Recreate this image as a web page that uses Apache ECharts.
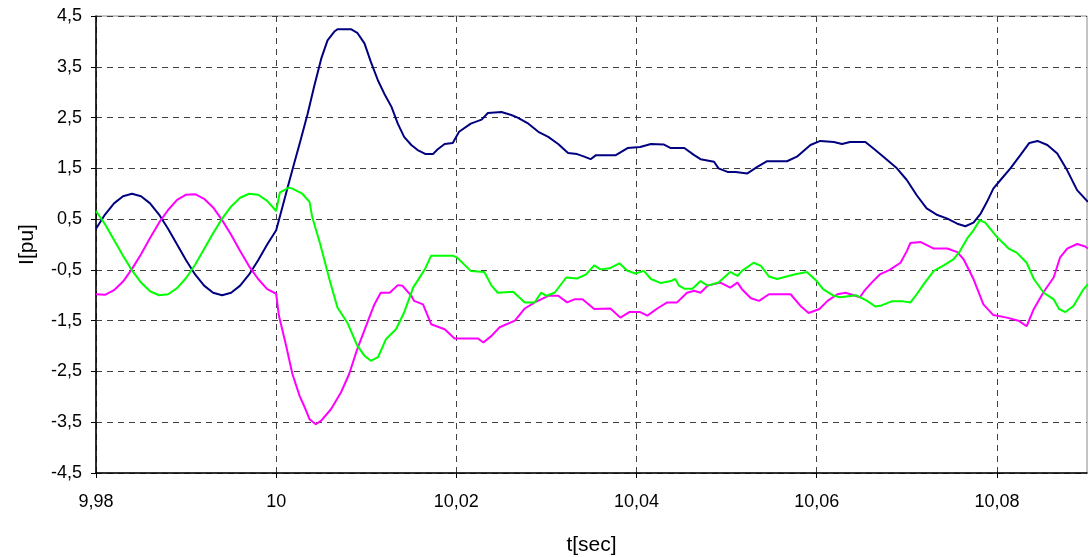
<!DOCTYPE html>
<html>
<head>
<meta charset="utf-8">
<script src="https://cdn.jsdelivr.net/npm/echarts@6/dist/echarts.min.js"></script>
<style>html,body{margin:0;padding:0;background:#fff;}#c{width:1089px;height:557px;}</style>
</head>
<body>
<div id="c"></div>
<script>
const xTicks = [9.98, 10, 10.02, 10.04, 10.06, 10.08];
const yTicks = [-4.5, -3.5, -2.5, -1.5, -0.5, 0.5, 1.5, 2.5, 3.5, 4.5];

const blueT = [9.980,9.981,9.982,9.983,9.984,9.985,9.986,9.987,9.988,9.989,9.990,9.991,9.992,9.993,9.994,9.995,9.996,9.997,9.998,9.999,10.000,
 10.0005,10.0013,10.0020,10.0027,10.0035,10.0042,10.0050,10.0057,10.0065,10.0068,10.0083,10.0090,10.0098,10.0105,10.0113,10.0120,10.0128,10.0135,10.0142,10.0150,10.0157,10.0166,10.0174,10.0179,10.0187,10.0196,10.0203,10.0216,10.0228,10.0235,10.0250,10.0261,10.0268,10.0280,10.0291,10.0302,10.0313,10.0324,10.0334,10.0342,10.0349,10.0355,10.0377,10.0390,10.0404,10.0416,10.0430,10.0438,10.0453,10.0464,10.0471,10.0486,10.0491,10.0501,10.0510,10.0523,10.0534,10.0545,10.0567,10.0578,10.0593,10.0604,10.0619,10.0628,10.0637,10.0654,10.0663,10.0674,10.0689,10.0700,10.0711,10.0722,10.0734,10.0745,10.0756,10.0765,10.0774,10.0782,10.0789,10.0796,10.0804,10.0815,10.0826,10.0836,10.0845,10.0856,10.0867,10.0878,10.0889,10.0901];
const blueI = [0.31,0.59,0.81,0.95,1.0,0.95,0.81,0.59,0.31,0.0,-0.31,-0.59,-0.81,-0.95,-1.0,-0.95,-0.81,-0.59,-0.31,0.0,0.28,
 0.61,1.14,1.60,2.05,2.58,3.10,3.66,4.02,4.20,4.24,4.24,4.17,3.96,3.60,3.23,2.97,2.71,2.38,2.12,1.96,1.86,1.78,1.78,1.87,1.98,2.00,2.22,2.38,2.46,2.59,2.61,2.55,2.50,2.38,2.22,2.12,1.98,1.80,1.78,1.73,1.68,1.76,1.76,1.90,1.92,1.98,1.97,1.90,1.90,1.76,1.68,1.63,1.50,1.43,1.43,1.40,1.53,1.64,1.64,1.73,1.96,2.04,2.02,1.98,2.02,2.02,1.89,1.73,1.50,1.27,0.97,0.71,0.58,0.51,0.41,0.36,0.43,0.61,0.84,1.10,1.27,1.50,1.76,2.00,2.04,1.96,1.79,1.46,1.07,0.84];

const pinkT = [9.980,9.981,9.982,9.983,9.984,9.985,9.986,9.987,9.988,9.989,9.990,9.991,9.992,9.993,9.994,9.995,9.996,9.997,9.998,9.999,10.000,
 10.0003,10.0011,10.0018,10.0026,10.0031,10.0037,10.0044,10.0050,10.0061,10.0072,10.0081,10.0090,10.0102,10.0109,10.0116,10.0126,10.0135,10.0140,10.0150,10.0153,10.0163,10.0172,10.0187,10.0198,10.0224,10.0230,10.0239,10.0248,10.0265,10.0276,10.0287,10.0302,10.0313,10.0323,10.0331,10.0340,10.0353,10.0371,10.0382,10.0392,10.0404,10.0412,10.0423,10.0434,10.0445,10.0456,10.0464,10.0471,10.0479,10.0493,10.0504,10.0512,10.0517,10.0527,10.0536,10.0547,10.0571,10.0582,10.0591,10.0603,10.0612,10.0623,10.0632,10.0648,10.0653,10.0661,10.0670,10.0681,10.0693,10.0700,10.0704,10.0715,10.0730,10.0745,10.0756,10.0763,10.0774,10.0785,10.0796,10.0811,10.0824,10.0833,10.0841,10.0852,10.0863,10.0870,10.0878,10.0889,10.0898,10.0901];
const pinkI = [-0.98,-0.99,-0.90,-0.73,-0.48,-0.19,0.13,0.43,0.68,0.88,0.98,0.99,0.90,0.73,0.48,0.19,-0.13,-0.43,-0.68,-0.88,-0.97,
 -1.40,-1.99,-2.55,-2.98,-3.18,-3.44,-3.54,-3.47,-3.24,-2.91,-2.55,-2.06,-1.50,-1.18,-0.95,-0.95,-0.80,-0.81,-1.01,-1.11,-1.18,-1.57,-1.67,-1.85,-1.85,-1.93,-1.80,-1.63,-1.50,-1.26,-1.14,-1.01,-1.01,-1.14,-1.08,-1.08,-1.27,-1.26,-1.44,-1.33,-1.33,-1.40,-1.26,-1.14,-1.14,-0.95,-0.91,-0.95,-0.81,-0.75,-0.85,-0.75,-0.88,-1.06,-1.11,-0.98,-0.98,-1.21,-1.35,-1.27,-1.11,-0.98,-0.95,-1.04,-0.91,-0.75,-0.59,-0.50,-0.36,-0.13,0.03,0.05,-0.08,-0.08,-0.15,-0.29,-0.68,-1.18,-1.39,-1.44,-1.50,-1.61,-1.27,-0.93,-0.65,-0.26,-0.08,0.01,-0.04,-0.08];

const greenT = [9.980,9.981,9.982,9.983,9.984,9.985,9.986,9.987,9.988,9.989,9.990,9.991,9.992,9.993,9.994,9.995,9.996,9.997,9.998,9.999,10.000,
 10.0004,10.0009,10.0014,10.0018,10.0029,10.0037,10.0040,10.0049,10.0059,10.0068,10.0079,10.0090,10.0098,10.0105,10.0113,10.0122,10.0133,10.0142,10.0152,10.0165,10.0172,10.0196,10.0201,10.0216,10.0231,10.0239,10.0246,10.0263,10.0276,10.0287,10.0294,10.0300,10.0309,10.0322,10.0334,10.0344,10.0353,10.0360,10.0370,10.0381,10.0390,10.0399,10.0408,10.0416,10.0427,10.0438,10.0443,10.0447,10.0453,10.0462,10.0471,10.0479,10.0491,10.0504,10.0512,10.0517,10.0530,10.0538,10.0547,10.0556,10.0575,10.0589,10.0600,10.0607,10.0619,10.0626,10.0644,10.0656,10.0665,10.0672,10.0683,10.0696,10.0704,10.0711,10.0720,10.0730,10.0741,10.0752,10.0759,10.0767,10.0774,10.0781,10.0787,10.0800,10.0813,10.0822,10.0833,10.0841,10.0852,10.0863,10.0869,10.0876,10.0885,10.0895,10.0901];
const greenI = [0.66,0.40,0.09,-0.22,-0.51,-0.75,-0.92,-1.00,-0.98,-0.86,-0.66,-0.40,-0.09,0.22,0.51,0.75,0.92,1.00,0.98,0.86,0.66,
 1.02,1.07,1.12,1.10,1.00,0.84,0.54,0.00,-0.68,-1.24,-1.54,-1.99,-2.19,-2.29,-2.22,-1.86,-1.67,-1.34,-0.85,-0.49,-0.22,-0.22,-0.26,-0.52,-0.54,-0.81,-0.95,-0.93,-1.14,-1.14,-0.95,-1.01,-0.95,-0.65,-0.67,-0.59,-0.41,-0.49,-0.47,-0.37,-0.52,-0.57,-0.52,-0.68,-0.76,-0.72,-0.68,-0.81,-0.87,-0.87,-0.72,-0.81,-0.75,-0.54,-0.62,-0.52,-0.36,-0.42,-0.63,-0.68,-0.59,-0.54,-0.72,-0.88,-1.01,-1.04,-1.00,-1.11,-1.22,-1.20,-1.12,-1.12,-1.14,-0.98,-0.75,-0.52,-0.41,-0.29,-0.13,0.12,0.28,0.48,0.43,0.15,-0.08,-0.16,-0.36,-0.68,-0.95,-1.08,-1.27,-1.33,-1.21,-0.91,-0.78];

function pairs(t, v) { return t.map((x, i) => [x, v[i]]); }
function fmt(v) { return String(Math.round(v * 100) / 100).replace('.', ','); }

const chart = echarts.init(document.getElementById('c'), null, { renderer: 'canvas' });
const FONT = 'Liberation Sans, Arial, sans-serif';
const dashed = { show: true, lineStyle: { color: '#404040', type: [6, 5], width: 1 } };

chart.setOption({
  animation: false,
  backgroundColor: '#ffffff',
  grid: { left: 96, top: 16, right: 2, bottom: 84, containLabel: false, outerBoundsMode: 'none', show: true, borderColor: '#8a8a8a', borderWidth: 1, backgroundColor: '#ffffff' },
  xAxis: {
    type: 'value', min: 9.98, max: 10.09,
    name: 't[sec]', nameLocation: 'middle', nameGap: 62,
    nameTextStyle: { fontFamily: FONT, fontSize: 21, color: '#000' },
    axisLine: { show: true, onZero: false, lineStyle: { color: '#000', width: 1.5 } },
    axisTick: { show: true, length: 5, inside: false, lineStyle: { color: '#000' }, customValues: xTicks },
    axisLabel: { margin: 20, fontFamily: FONT, fontSize: 18, color: '#000', formatter: fmt, customValues: xTicks },
    splitLine: dashed
  },
  yAxis: {
    type: 'value', min: -4.5, max: 4.5,
    name: 'I[pu]', nameLocation: 'middle', nameGap: 58, nameRotate: 90,
    nameTextStyle: { fontFamily: FONT, fontSize: 21, color: '#000' },
    axisLine: { show: true, onZero: false, lineStyle: { color: '#000', width: 1.5 } },
    axisTick: { show: true, length: 5, inside: false, lineStyle: { color: '#000' }, customValues: yTicks },
    axisLabel: { margin: 14, fontFamily: FONT, fontSize: 18, color: '#000', formatter: fmt, customValues: yTicks },
    splitLine: dashed
  },
  series: [
    { type: 'line', name: 'Ia', data: pairs(blueT, blueI), showSymbol: false, symbol: 'none', lineStyle: { color: '#000080', width: 2 }, z: 3 },
    { type: 'line', name: 'Ib', data: pairs(pinkT, pinkI), showSymbol: false, symbol: 'none', lineStyle: { color: '#ff00ff', width: 2 }, z: 3 },
    { type: 'line', name: 'Ic', data: pairs(greenT, greenI), showSymbol: false, symbol: 'none', lineStyle: { color: '#00ff00', width: 2 }, z: 3 }
  ]
});
</script>
</body>
</html>
